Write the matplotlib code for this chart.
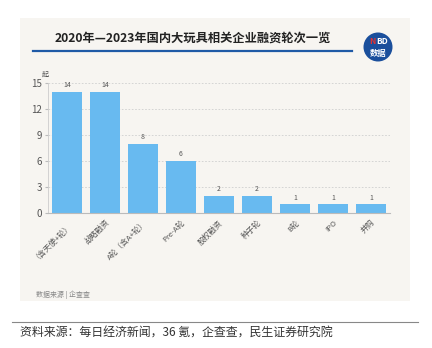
import matplotlib
matplotlib.use('Agg')
import matplotlib.pyplot as plt
from matplotlib.patches import Rectangle, Ellipse

plt.rcParams['font.family'] = ['Noto Sans CJK SC', 'DejaVu Sans']

categories = ['（含天使+轮）', '战略融资', 'A轮（含A+轮）', 'Pre-A轮', '股权融资',
              '种子轮', 'B轮', 'IPO', '并购']
counts = [14, 14, 8, 6, 2, 2, 1, 1, 1]
yticks = [0, 3, 6, 9, 12, 15]

W, H = 432, 348
fig = plt.figure(figsize=(W / 100, H / 100), dpi=100)
fig.patch.set_facecolor('white')

# beige panel behind the chart
panel = Rectangle((20 / W, 1 - 301 / H), 390 / W, 283 / H, transform=fig.transFigure,
                  facecolor='#f7f5f1', edgecolor='none', zorder=-10)
fig.patches.append(panel)

# title and blue rule
fig.text(193 / W, 1 - 38 / H, '2020年—2023年国内大玩具相关企业融资轮次一览',
         ha='center', va='center', fontsize=8.8, fontweight='bold', color='#222222')
fig.lines.append(plt.Line2D([33 / W, 352 / W], [1 - 51 / H, 1 - 51 / H],
                            transform=fig.transFigure, color='#1f5aa6', lw=1.6))

# NBD logo
fig.patches.append(Ellipse((378 / W, 1 - 47 / H), 29 / W, 29 / H, transform=fig.transFigure,
                           facecolor='#1b4f9c', edgecolor='none'))
fig.text(372 / W, 1 - 42 / H, 'N', color='#e8322f', fontsize=6, fontweight='bold',
         ha='center', va='center', style='italic')
fig.text(382.5 / W, 1 - 42 / H, 'BD', color='white', fontsize=6, fontweight='bold',
         ha='center', va='center', style='italic')
fig.text(378 / W, 1 - 53 / H, '数据', color='white', fontsize=6, fontweight='bold',
         ha='center', va='center')

ax = fig.add_axes([48 / W, 1 - 213 / H, 342 / W, 130 / H])
ax.set_facecolor('none')

x = range(len(categories))
ax.bar(x, counts, width=0.78, color='#68baf0', zorder=2)
for i, v in zip(x, counts):
    ax.text(i, v + 0.3, str(v), ha='center', va='bottom', fontsize=5, color='#555555')

ax.set_xlim(-0.5, 8.5)
ax.set_ylim(0, 15)
ax.set_yticks(yticks)
ax.yaxis.grid(True, color='#cfcfcf', ls=(0, (2, 2)), lw=0.6)
ax.set_axisbelow(True)

ax.set_xticks(list(x))
ax.set_xticklabels(categories, rotation=45, ha='right', rotation_mode='anchor',
                   fontsize=5.6, color='#555555')
ax.tick_params(axis='x', length=0, pad=4)
ax.tick_params(axis='y', labelsize=7, labelcolor='#555555', length=2, color='#bbbbbb', pad=2)

for s in ['top', 'right']:
    ax.spines[s].set_visible(False)
ax.spines['left'].set_color('#cccccc')
ax.spines['bottom'].set_color('#bbbbbb')
ax.spines['left'].set_linewidth(0.6)
ax.spines['bottom'].set_linewidth(0.8)

ax.text(-0.58, 15.9, '起', ha='center', va='center', fontsize=5, color='#555555')

# source notes
fig.text(36 / W, 1 - 295 / H, '数据来源 | 企查查', ha='left', va='center',
         fontsize=5, color='#888888')
fig.lines.append(plt.Line2D([12 / W, 418 / W], [1 - 322 / H, 1 - 322 / H],
                            transform=fig.transFigure, color='#888888', lw=0.8))
fig.text(20 / W, 1 - 333 / H, '资料来源：每日经济新闻，36 氪，企查查，民生证券研究院',
         ha='left', va='center', fontsize=8.6, color='#333333')

fig.savefig('out.png', dpi=100)
